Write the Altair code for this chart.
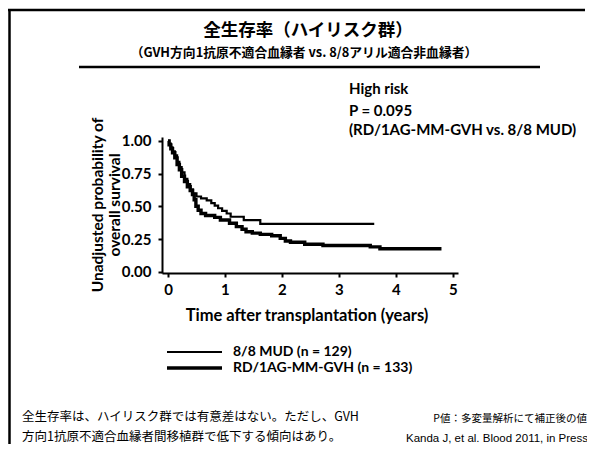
import altair as alt
import pandas as pd

# ---------------- data ----------------
mud_time = [0, 0.02, 0.05, 0.08, 0.12, 0.16, 0.2, 0.24, 0.29, 0.34, 0.39, 0.44, 0.5, 0.58,
            0.68, 0.76, 0.82, 0.88, 0.95, 1.03, 1.1, 1.33, 1.62, 3.62]
mud_surv = [1.0, 0.98, 0.95, 0.92, 0.89, 0.84, 0.8, 0.76, 0.71, 0.67, 0.63, 0.6, 0.575, 0.56,
            0.545, 0.525, 0.505, 0.485, 0.465, 0.445, 0.42, 0.395, 0.365, 0.365]

rd_time = [0, 0.02, 0.05, 0.08, 0.12, 0.16, 0.2, 0.24, 0.29, 0.34, 0.39, 0.43, 0.46, 0.49,
           0.53, 0.58, 0.66, 0.82, 0.92, 1.08, 1.2, 1.3, 1.37, 1.48, 1.62, 1.82, 1.97, 2.06,
           2.15, 2.4, 2.72, 3.55, 3.72, 4.8]
rd_surv = [1.0, 0.97, 0.94, 0.91, 0.87, 0.82, 0.78, 0.73, 0.69, 0.65, 0.62, 0.59, 0.55, 0.5,
           0.47, 0.445, 0.43, 0.415, 0.395, 0.37, 0.345, 0.325, 0.305, 0.295, 0.285, 0.275,
           0.255, 0.235, 0.225, 0.21, 0.2, 0.19, 0.175, 0.175]

series_names = ["8/8 MUD", "RD/1AG-MM-GVH"]
series_n = [129, 133]
x_ticks = [0, 1, 2, 3, 4, 5]
y_ticks = [0, 0.25, 0.5, 0.75, 1.0]

title_text = "全生存率（ハイリスク群）"
subtitle_text = "（GVH方向1抗原不適合血縁者 vs. 8/8アリル適合非血縁者）"
annot_lines = ["High risk", "P = 0.095", "(RD/1AG-MM-GVH vs. 8/8 MUD)"]
y_title_lines = ["Unadjusted probability of", "overall survival"]
x_title_text = "Time after transplantation (years)"
note_lines = ["全生存率は、ハイリスク群では有意差はない。ただし、GVH",
              "方向1抗原不適合血縁者間移植群で低下する傾向はあり。"]
pnote_text = "P値：多変量解析にて補正後の値"
cite_text = "Kanda J, et al. Blood 2011, in Press"

# ---------------- build ----------------
curves = pd.concat([
    pd.DataFrame({"time": mud_time, "surv": mud_surv, "group": series_names[0]}),
    pd.DataFrame({"time": rd_time, "surv": rd_surv, "group": series_names[1]}),
])

LAT = "Lato"
CJK = "Noto Sans CJK JP"
widths = [2.2, 3.4]

x_enc = alt.X("time:Q", scale=alt.Scale(domain=[-0.105, 5.09], nice=False, zero=False),
              axis=alt.Axis(values=x_ticks, format="d", title=None, labelPadding=5))
y_enc = alt.Y("surv:Q", scale=alt.Scale(domain=[-0.01, 1.03], nice=False, zero=False),
              axis=alt.Axis(values=y_ticks, format=".2f", title=None, labelPadding=7))

lines = alt.Chart(curves).mark_line(interpolate="step-after", color="black").encode(
    x=x_enc, y=y_enc,
    detail="group:N",
    strokeWidth=alt.StrokeWidth("group:O", scale=alt.Scale(domain=series_names, range=widths),
                                legend=None),
)


def txt(s, x, y, font=LAT, size=14, weight="bold", align="left", baseline="middle", angle=0):
    return alt.Chart(pd.DataFrame({"t": [s]})).mark_text(
        font=font, fontSize=size, fontWeight=weight, align=align, baseline=baseline,
        angle=angle, color="black"
    ).encode(text="t:N", x=alt.value(x), y=alt.value(y))


def hrule(x1, x2, y, w):
    return alt.Chart(pd.DataFrame({"a": [0]})).mark_rule(color="black", strokeWidth=w).encode(
        x=alt.value(x1), x2=alt.value(x2), y=alt.value(y))


def vrule(x, y1, y2, w):
    return alt.Chart(pd.DataFrame({"a": [0]})).mark_rule(color="black", strokeWidth=w).encode(
        x=alt.value(x), y=alt.value(y1), y2=alt.value(y2))


layers = [lines]
# frame lines
layers.append(hrule(-156, 423, -127, 2.5))
layers.append(vrule(-152.5, -127, 320, 2.5))
layers.append(hrule(-83, 378, -70, 2.5))
# titles
layers.append(txt(title_text, 146, -106, font=CJK, size=17.5, align="center"))
layers.append(txt(subtitle_text, 142, -84, font=CJK, size=12.8, align="center"))
# annotation
for s, yy in zip(annot_lines, [-48, -26, -7]):
    layers.append(txt(s, 187, yy, size=15))
# axis titles
for s, xx in zip(y_title_lines, [-64, -47]):
    layers.append(txt(s, xx, 68, size=15.5, align="center", angle=270))
layers.append(txt(x_title_text, 145, 179, size=16.5, align="center"))
# legend
for name, n, w, yy in zip(series_names, series_n, widths, [215, 231]):
    layers.append(hrule(5, 60, yy, w))
    layers.append(txt(f"{name} (n = {n})", 71, yy, size=14))
# notes
for s, yy in zip(note_lines, [280, 300]):
    layers.append(txt(s, -140, yy, font=CJK, size=12.5, weight="normal"))
layers.append(txt(pnote_text, 425, 282, font=CJK, size=10.5, weight="normal", align="right"))
layers.append(txt(cite_text, 426, 302, font="Liberation Sans", size=11.5, weight="normal",
                  align="right"))

chart = alt.layer(*layers).properties(
    width=296, height=136,
    autosize=alt.AutoSizeParams(type="none"),
    padding={"left": 154, "top": 129, "right": 129, "bottom": 171},
    background="white",
).configure_axis(
    domainColor="black", domainWidth=2, tickColor="black", tickWidth=2, tickSize=4,
    labelFont=LAT, labelFontWeight="bold", labelFontSize=15, labelColor="black", grid=False,
).configure_view(stroke=None)

chart.save("out.html", embed_options={"renderer": "svg", "actions": False})
